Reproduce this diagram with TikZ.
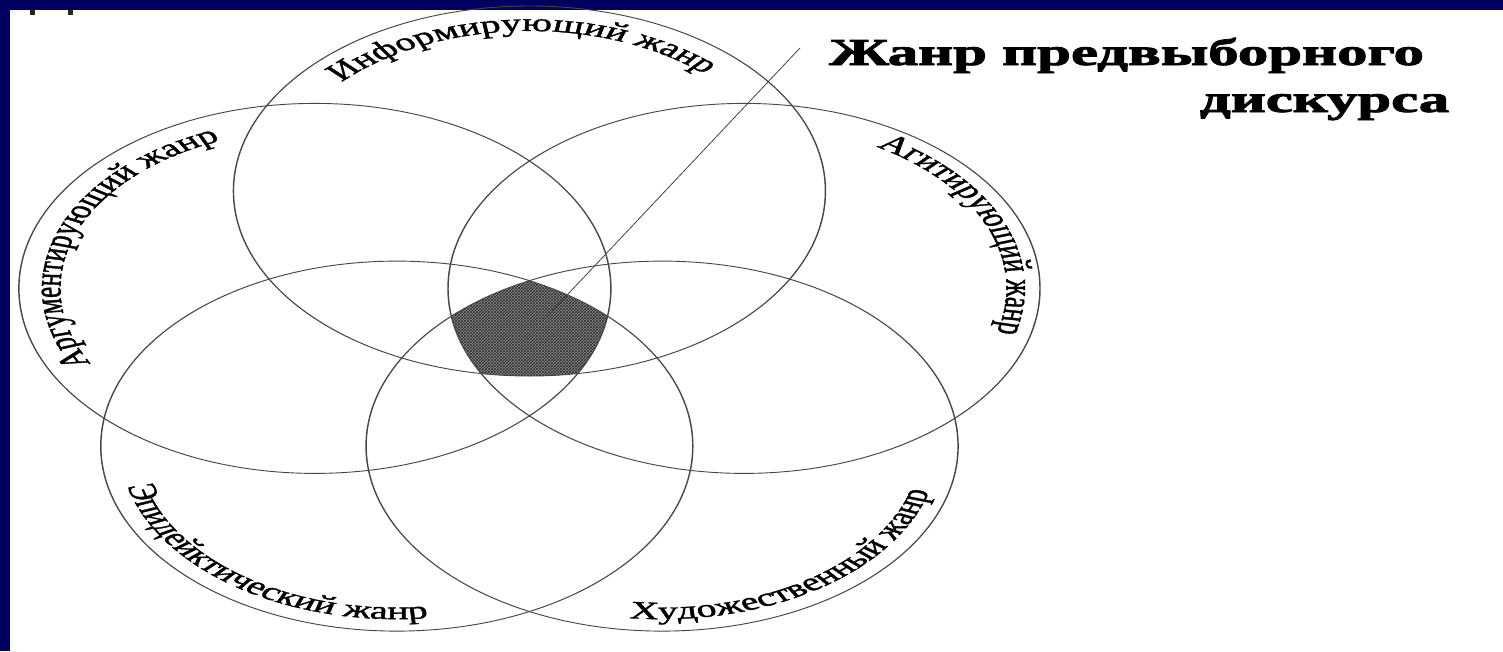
\documentclass[tikz,border=0pt]{standalone}
\usepackage{fontspec}
\setmainfont{Liberation Serif}
\newfontfamily\labfont[FakeBold=1.3]{Liberation Serif}
\newfontfamily\titlefont[FakeBold=2]{Liberation Serif Bold}
\usetikzlibrary{decorations.text,patterns}
\definecolor{navy}{RGB}{0,0,96}
\definecolor{ln}{RGB}{70,70,70}
\tikzset{
  ring/.style={draw=ln, line width=0.9pt},
  lab/.style={decorate, decoration={text along path, text align=center, text color=black}},
  title/.style={inner sep=0pt, font=\titlefont\fontsize{38}{38}\selectfont},
  leader/.style={draw=ln, line width=0.6pt}
}
\newcommand{\lf}{\labfont\fontsize{25}{25}\selectfont}
\begin{document}
\begin{tikzpicture}[x=1pt,y=1pt]
\useasboundingbox (0,0) rectangle (1503,-651);
\fill[white] (0,0) rectangle (1503,-651);
\fill[navy] (0,0) rectangle (1503,-10);
\fill[navy] (0,0) rectangle (10,-651);
\fill[black!85] (30,-10) rectangle (35,-15);
\fill[black!85] (68,-10) rectangle (73,-15);
\begin{scope}[transform canvas={xscale=1.6}]
  \coordinate (O) at (330.9,-332);
  \coordinate (T) at (330.9,-191);
  \coordinate (L) at (196.8,-288.4);
  \coordinate (R) at (465.0,-288.4);
  \coordinate (BL) at (248.0,-446.1);
  \coordinate (BR) at (413.8,-446.1);
  % shaded common region
  \begin{scope}
    \clip (T) circle[radius=185];
    \clip (L) circle[radius=185];
    \clip (R) circle[radius=185];
    \clip (BL) circle[radius=185];
    \clip (BR) circle[radius=185];
    \fill[black!42] (O) circle[radius=120];
    \fill[pattern=crosshatch, pattern color=black!85] (O) circle[radius=120];
  \end{scope}
  \foreach \c in {T,L,R,BL,BR} \draw[ring] (\c) circle[radius=185];
  % leader line
  \coordinate (p) at (335.6,-327);
  \coordinate (q) at (500,-48);
  \draw[leader] (p) -- (q);
  % labels
  \path[lab, decoration={text={|\lf|Информирующий жанр}}]
    ([shift={(152:160)}]T) arc[start angle=152, end angle=32, radius=160];
  \path[lab, decoration={text={|\lf|Аргументирующий жанр}}]
    ([shift={(220:159)}]L) arc[start angle=220, end angle=100, radius=159];
  \path[lab, decoration={text={|\lf|Агитирующий жанр}}]
    ([shift={(82:164)}]R) arc[start angle=82, end angle=-38, radius=164];
  \path[lab, decoration={text={|\lf|Эпидейктический жанр}}]
    ([shift={(175:173)}]BL) arc[start angle=175, end angle=295, radius=173];
  \path[lab, decoration={text={|\lf|Художественный жанр}}]
    ([shift={(244:173)}]BR) arc[start angle=244, end angle=364, radius=173];
  % title
  \node[title, anchor=base west] (t1) at (518,-65) {Жанр предвыборного};
  \node[title, anchor=base east] (t2) at (906,-112) {дискурса};
\end{scope}
\end{tikzpicture}
\end{document}
